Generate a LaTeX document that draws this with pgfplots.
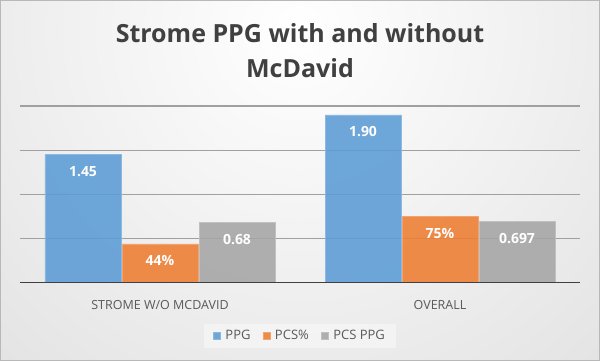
\documentclass[border=0pt]{standalone}
\usepackage{pgfplots}
\usepackage{pgfplotstable}
\pgfplotsset{compat=1.18}
\usepackage{fontspec}
\setmainfont{Open Sans}
\definecolor{cblue}{HTML}{5B9BD5}
\definecolor{corange}{HTML}{ED7D31}
\definecolor{cgray}{HTML}{A5A5A5}
\definecolor{titlec}{HTML}{404040}
\definecolor{labc}{HTML}{595959}
\definecolor{bgedge}{HTML}{C8C8C8}
\definecolor{gridc}{HTML}{A0A0A0}

\pgfplotstableread{
x y l
0 1.45 1.45
1 1.90 1.90
}\ppg
\pgfplotstableread{
x y l
0 0.44 44
1 0.75 75
}\pcs
\pgfplotstableread{
x y l
0 0.68 0.68
1 0.697 0.697
}\pcsppg

\begin{document}
\begin{tikzpicture}[x=1pt,y=1pt]
\useasboundingbox (0,0) rectangle (600,361);
\begin{scope}
\clip (0,0) rectangle (600,361);
\shade[inner color=white, outer color=bgedge] (300,331) circle (900);
\end{scope}
\draw[color=black!28, line width=1pt] (0.5,0.5) rectangle (599.5,360.5);
\node[font=\fontsize{25}{29}\selectfont\bfseries, text=titlec] at (300,328) {Strome PPG with and without};
\node[font=\fontsize{25}{29}\selectfont\bfseries, text=titlec] at (300,293) {McDavid};

\begin{axis}[
  at={(20pt,78.3pt)}, anchor=south west,
  scale only axis, width=560pt, height=176.7pt,
  xmin=-0.5, xmax=1.5, ymin=0, ymax=2,
  ybar=1pt, bar width=76pt,
  axis line style={draw=none},
  xtick={0,1}, xticklabels={STROME W/O MCDAVID, OVERALL},
  xtick style={draw=none},
  xticklabel style={font=\fontsize{12.5}{14}\selectfont, text=labc, anchor=base, yshift=-23pt},
  ytick={0.5,1,1.5}, yticklabels={}, ytick style={draw=none},
  ymajorgrids, major grid style={draw=gridc, line width=1.2pt},
  extra y ticks={2}, extra y tick labels={},
  extra y tick style={grid style={draw=black!13, line width=1.2pt}, tick style={draw=none}},
  nodes near coords,
  point meta=explicit symbolic,
  every node near coord/.append style={anchor=center, yshift=-17pt, text=white, font=\fontsize{14}{16}\selectfont\bfseries, fill opacity=1, text opacity=1},
  legend columns=3,
  legend image code/.code={\fill[#1] (0pt,-3.5pt) rectangle (7pt,3.5pt);},
  legend style={at={(0.5,-0.3016)}, anchor=center, draw=none, fill=white, fill opacity=0.4, text opacity=1,
    font=\fontsize{13}{15}\selectfont, text=labc, inner xsep=9pt, inner ysep=5pt,
    /tikz/every odd column/.append style={column sep=3pt},
    /tikz/every even column/.append style={column sep=10pt}},
]
\addplot[fill=cblue, draw=cblue!70!white, fill opacity=0.88] table[x=x,y=y,meta=l]{\ppg};
\addplot[fill=corange, draw=corange!70!white, fill opacity=0.88, nodes near coords={\pgfplotspointmeta\%}] table[x=x,y=y,meta=l]{\pcs};
\addplot[fill=cgray, draw=cgray!70!white, fill opacity=0.88] table[x=x,y=y,meta=l]{\pcsppg};
\legend{PPG, PCS\%, PCS PPG}
\draw[draw=titlec, line width=2.2pt] (rel axis cs:0,0) -- (rel axis cs:1,0);
\end{axis}
\end{tikzpicture}
\end{document}
